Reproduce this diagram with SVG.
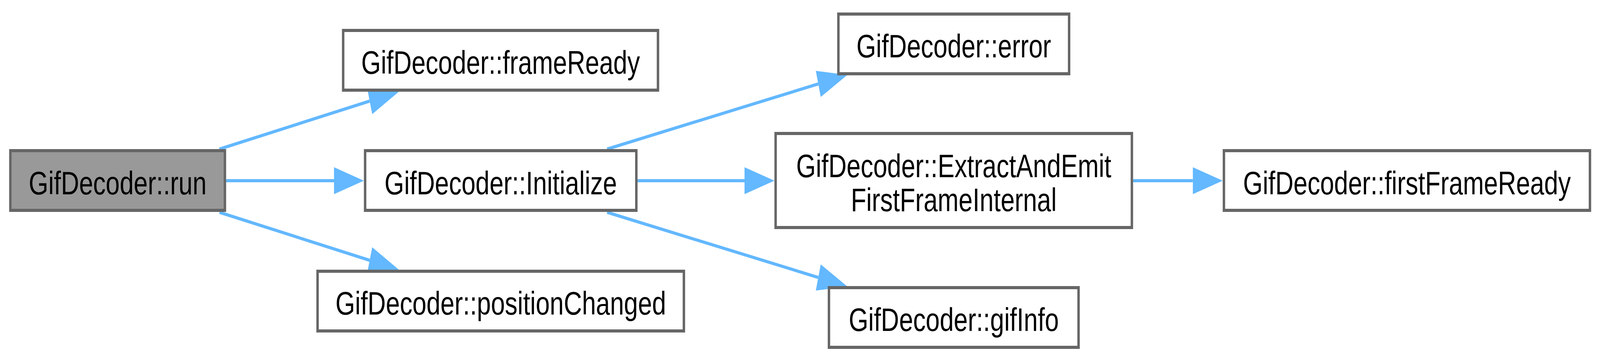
<svg xmlns="http://www.w3.org/2000/svg" width="5250" height="925" viewBox="0 0 5250 925" preserveAspectRatio="none">
<style>
svg:root{width:100vw;height:100vh}
.node rect{fill:#ffffff;stroke:#666666;stroke-width:8}
.node.root rect{fill:#999999}
.node text{font-family:"Liberation Sans",Arial,Helvetica,sans-serif;font-size:82.7px;fill:#000000;text-anchor:middle}
.edge{fill:none;stroke:#63b8ff;stroke-width:8}
</style>
<defs>
<marker id="ah" markerUnits="userSpaceOnUse" markerWidth="100" markerHeight="70" refX="0" refY="35" orient="auto" overflow="visible">
<path d="M0,0.5 L98,35 L0,69.5 Z" fill="#63b8ff"/>
</marker>
</defs>
<rect x="0" y="0" width="5250" height="925" fill="#ffffff"/>
<g id="connectors">
<path class="edge" d="M720,382 L1213,259" marker-end="url(#ah)"/>
<path class="edge" d="M742,463 L1096,463" marker-end="url(#ah)"/>
<path class="edge" d="M720,544 L1213,667" marker-end="url(#ah)"/>
<path class="edge" d="M1992,382 L2685,215" marker-end="url(#ah)"/>
<path class="edge" d="M2092,463 L2443,463" marker-end="url(#ah)"/>
<path class="edge" d="M1992,544 L2685,711" marker-end="url(#ah)"/>
<path class="edge" d="M3718,463 L3914,463" marker-end="url(#ah)"/>
</g>
<g id="node-run" class="node root">
<rect x="34" y="386" width="704" height="153"/>
<text x="386" y="498">GifDecoder::run</text>
</g>
<g id="node-frameReady" class="node">
<rect x="1126" y="78" width="1033" height="153"/>
<text x="1642.5" y="189.5">GifDecoder::frameReady</text>
</g>
<g id="node-Initialize" class="node">
<rect x="1198" y="386" width="890" height="153"/>
<text x="1643" y="498">GifDecoder::Initialize</text>
</g>
<g id="node-positionChanged" class="node">
<rect x="1042" y="695" width="1202" height="153"/>
<text x="1643" y="806.5">GifDecoder::positionChanged</text>
</g>
<g id="node-error" class="node">
<rect x="2751" y="36" width="757" height="153"/>
<text x="3129.5" y="147.5">GifDecoder::error</text>
</g>
<g id="node-ExtractAndEmitFirstFrameInternal" class="node">
<rect x="2545" y="342" width="1169" height="241"/>
<text x="3129.5" y="454">GifDecoder::ExtractAndEmit</text>
<text x="3129.5" y="541">FirstFrameInternal</text>
</g>
<g id="node-gifInfo" class="node">
<rect x="2720" y="737" width="819" height="153"/>
<text x="3129.5" y="848.5">GifDecoder::gifInfo</text>
</g>
<g id="node-firstFrameReady" class="node">
<rect x="4016" y="386" width="1201" height="153"/>
<text x="4616.5" y="498">GifDecoder::firstFrameReady</text>
</g>
</svg>
